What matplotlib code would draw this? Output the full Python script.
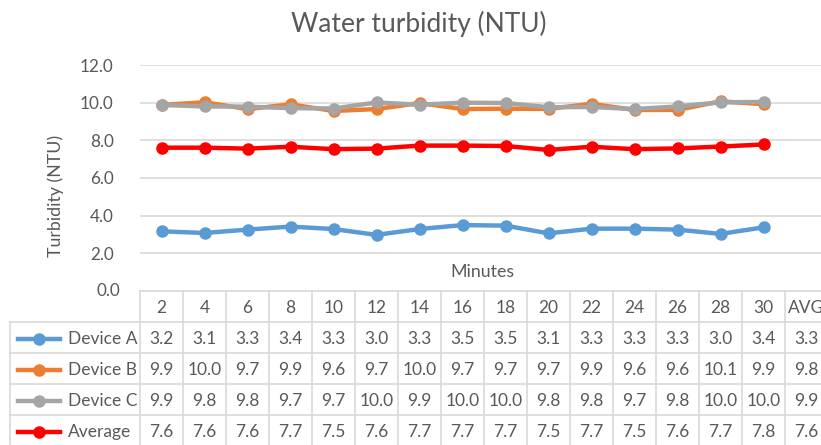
import matplotlib
matplotlib.use("Agg")
import matplotlib.pyplot as plt

plt.rcParams['font.family'] = ['Lato', 'DejaVu Sans']

minutes = ['2', '4', '6', '8', '10', '12', '14', '16', '18', '20', '22', '24', '26', '28', '30']
columns = minutes + ['AVG']
series_names = ['Device A', 'Device B', 'Device C', 'Average']
device_a = [3.17, 3.08, 3.26, 3.42, 3.29, 2.98, 3.29, 3.50, 3.47, 3.06, 3.31, 3.31, 3.26, 3.03, 3.38]
device_b = [9.88, 10.02, 9.66, 9.91, 9.56, 9.66, 9.98, 9.66, 9.68, 9.67, 9.94, 9.61, 9.62, 10.07, 9.92]
device_c = [9.88, 9.80, 9.79, 9.71, 9.69, 10.01, 9.89, 10.00, 9.98, 9.76, 9.77, 9.66, 9.80, 10.02, 10.04]
average = [7.61, 7.61, 7.56, 7.66, 7.53, 7.56, 7.72, 7.72, 7.70, 7.49, 7.66, 7.53, 7.57, 7.67, 7.78]
avg_column = [3.3, 9.8, 9.9, 7.6]
colors = ['#5B9BD5', '#ED7D31', '#A5A5A5', '#FF0000']

W, H = 821, 445
fig = plt.figure(figsize=(W / 100, H / 100), dpi=100)

# plot area, 43 px per category, runs past the right edge like the original
left, top, bottom, colw = 140, 65, 291, 43
ax = fig.add_axes([left / W, (H - bottom) / H, 16 * colw / W, (bottom - top) / H])
x = list(range(len(minutes)))
for name, vals, c in zip(series_names, [device_a, device_b, device_c, average], colors):
    ax.plot(x, vals, color=c, lw=3.2, marker='o', ms=8, solid_capstyle='round', zorder=3)
ax.set_xlim(-0.5, 15.5)
ax.set_ylim(0, 12)
ax.set_yticks(range(2, 13, 2))
ax.set_yticklabels([f'{v:.1f}' for v in range(2, 13, 2)])
ax.set_xticks([])
ax.tick_params(axis='y', length=0, pad=19, labelsize=12.3, labelcolor='#595959')
ax.grid(axis='y', color='#D9D9D9', lw=1.2)
for s in ax.spines.values():
    s.set_visible(False)
fig.text(120 / W, (H - bottom) / H, '0.0', ha='right', va='center',
         fontsize=12.3, color='#595959')

fig.text(419 / W, 1 - 24 / H, 'Water turbidity (NTU)', ha='center', va='center',
         fontsize=19, color='#595959')
fig.text(56 / W, 1 - 196 / H, 'Turbidity (NTU)', ha='center', va='center',
         rotation=90, fontsize=12.8, color='#595959')
fig.text(482 / W, 1 - 272 / H, 'Minutes', ha='center', va='center',
         fontsize=12.8, color='#595959')

# data table
rowh = 31
tax = fig.add_axes([left / W, (H - bottom - 5 * rowh) / H, 16 * colw / W, 5 * rowh / H])
tax.set_xlim(-0.5, 15.5)
tax.set_ylim(5, 0)
tax.axis('off')


def px2x(px):
    return (px - left) / colw - 0.5


gc = '#D9D9D9'
x_tab = px2x(10)
tax.plot([-0.5, 15.5], [0, 0], color=gc, lw=1.2, clip_on=False)
for r in range(1, 5):
    tax.plot([x_tab, 15.5], [r, r], color=gc, lw=1.2, clip_on=False)
tax.plot([x_tab, x_tab], [1, 5], color=gc, lw=1.2, clip_on=False)
for i in range(17):
    tax.plot([i - 0.5, i - 0.5], [0, 5], color=gc, lw=1.2, clip_on=False)

tc = '#595959'
fs = 12.5
for i, lab in enumerate(columns):
    tax.text(i, 0.55, lab, ha='center', va='center', fontsize=fs, color=tc, clip_on=False)

all_vals = [device_a, device_b, device_c, average]
for r, (name, vals, c) in enumerate(zip(series_names, all_vals, colors), start=1):
    yy = r + 0.55
    tax.plot([px2x(18), px2x(60)], [yy, yy], color=c, lw=3.2, clip_on=False)
    tax.plot([px2x(39)], [yy], marker='o', ms=8, color=c, clip_on=False)
    tax.text(px2x(68), yy, name, ha='left', va='center', fontsize=fs, color=tc, clip_on=False)
    for i, v in enumerate(vals + [avg_column[r - 1]]):
        tax.text(i, yy, f'{v:.1f}', ha='center', va='center', fontsize=fs, color=tc, clip_on=False)

fig.savefig('out.png', dpi=100)
